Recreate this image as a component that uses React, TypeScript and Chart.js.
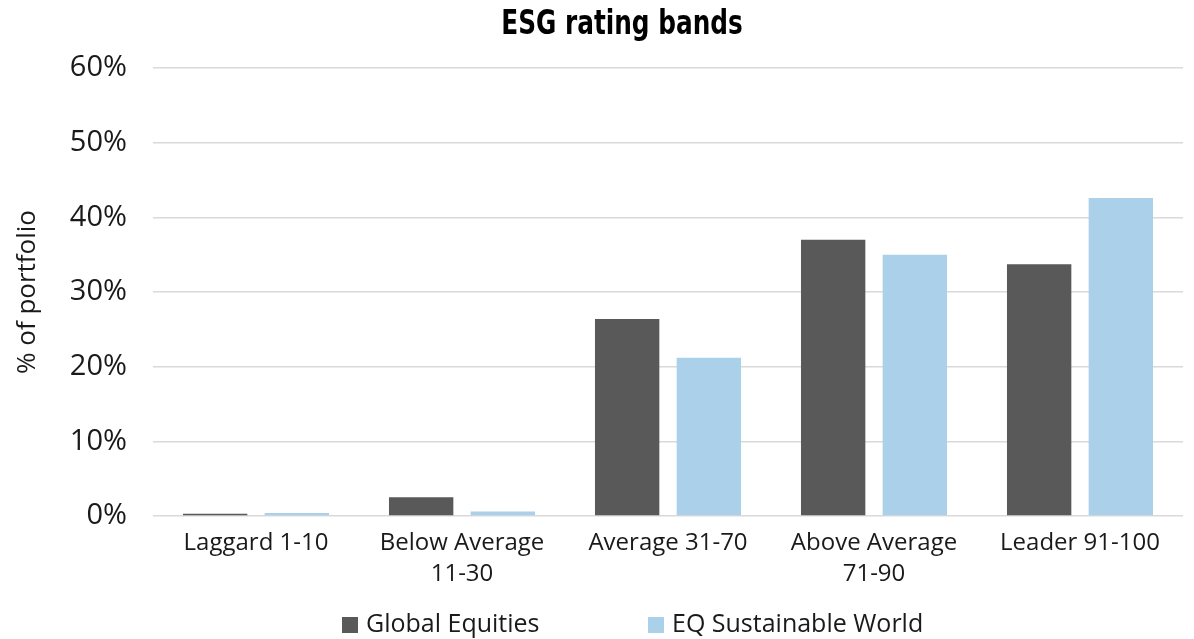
import React, { useEffect, useRef } from "react";
import { Chart, registerables } from "chart.js";

Chart.register(...registerables);

// Rating band categories (multi-line labels are arrays)
const categories: (string | string[])[] = [
  "Laggard 1-10",
  ["Below Average", "11-30"],
  "Average 31-70",
  ["Above Average", "71-90"],
  "Leader 91-100",
];

// Share of portfolio in each band, in percent
const globalEquities: number[] = [0.3, 2.5, 26.4, 37.0, 33.7];
const eqSustainableWorld: number[] = [0.4, 0.6, 21.2, 35.0, 42.6];

const seriesNames: string[] = ["Global Equities", "EQ Sustainable World"];
const seriesColors: string[] = ["#595959", "#abd0ea"];

const chartTitle = "ESG rating bands";
const yAxisTitle = "% of portfolio";
const yMax = 60;
const yStep = 10;

const TEXT_FONT = "'Open Sans', 'Liberation Sans', sans-serif";
const TITLE_FONT = "'DejaVu Sans Condensed', 'DejaVu Sans', sans-serif";
const TEXT_COLOR = "#1a1a1a";

// Heading drawn above the plot, centred on the whole figure, horizontally condensed
const headingPlugin = {
  id: "heading",
  afterDraw(chart: any, _args: any, opts: any) {
    const { ctx } = chart;
    ctx.save();
    ctx.font = `bold ${opts.size}px ${TITLE_FONT}`;
    ctx.fillStyle = "#000";
    ctx.textAlign = "center";
    ctx.textBaseline = "alphabetic";
    ctx.translate(opts.x, opts.baseline);
    ctx.scale(opts.squeeze, 1);
    ctx.fillText(opts.text, 0, 0);
    ctx.restore();
  },
};

// Series key under the category axis
const keyPlugin = {
  id: "seriesKey",
  afterDraw(chart: any, _args: any, opts: any) {
    const { ctx } = chart;
    ctx.save();
    ctx.font = `${opts.size}px ${TEXT_FONT}`;
    ctx.textAlign = "left";
    ctx.textBaseline = "alphabetic";
    chart.data.datasets.forEach((ds: any, i: number) => {
      const x = opts.startX + i * opts.spacing;
      ctx.fillStyle = ds.backgroundColor;
      ctx.fillRect(x, opts.boxTop, opts.box, opts.box);
      ctx.fillStyle = TEXT_COLOR;
      ctx.fillText(ds.label, x + opts.box + opts.gap, opts.baseline);
    });
    ctx.restore();
  },
};

export default function App() {
  const canvasRef = useRef<HTMLCanvasElement | null>(null);

  useEffect(() => {
    const canvas = canvasRef.current;
    if (!canvas) return;
    const chart = new Chart(canvas, {
      type: "bar",
      data: {
        labels: categories,
        datasets: [
          {
            label: seriesNames[0],
            data: globalEquities,
            backgroundColor: seriesColors[0],
            categoryPercentage: 0.793,
            barPercentage: 0.788,
          },
          {
            label: seriesNames[1],
            data: eqSustainableWorld,
            backgroundColor: seriesColors[1],
            categoryPercentage: 0.793,
            barPercentage: 0.788,
          },
        ],
      },
      options: {
        responsive: false,
        animation: false,
        layout: { padding: { top: 68, right: 11, bottom: 0, left: 0 } },
        plugins: {
          legend: { display: false },
          title: { display: false },
          tooltip: { enabled: false },
          heading: { text: chartTitle, size: 34, x: 622, baseline: 34, squeeze: 0.81 },
          seriesKey: { startX: 342, spacing: 306, box: 16, gap: 8, boxTop: 617, baseline: 632, size: 25 },
        } as any,
        scales: {
          x: {
            grid: { display: false, drawTicks: false },
            border: { display: false },
            ticks: {
              color: TEXT_COLOR,
              font: { family: TEXT_FONT, size: 24, lineHeight: 1.28 },
              padding: 12,
              maxRotation: 0,
              autoSkip: false,
            },
            afterFit: (scale: any) => {
              scale.height = 123;
            },
          },
          y: {
            min: 0,
            max: yMax,
            grid: { color: "#d9d9d9", lineWidth: 1.5, drawTicks: false },
            border: { display: false },
            ticks: {
              stepSize: yStep,
              color: TEXT_COLOR,
              font: { family: TEXT_FONT, size: 29 },
              padding: 26,
              callback: (v: any) => `${v}%`,
            },
            title: {
              display: true,
              text: yAxisTitle,
              color: TEXT_COLOR,
              font: { family: TEXT_FONT, size: 26, lineHeight: 1.2 },
              padding: { top: 12, bottom: 0 },
            },
            afterFit: (scale: any) => {
              scale.width = 153;
            },
          },
        },
      },
      plugins: [headingPlugin, keyPlugin],
    });
    return () => chart.destroy();
  }, []);

  return (
    <div style={{ position: "fixed", left: 0, top: 0, width: 1194, height: 639, background: "#fff" }}>
      <canvas ref={canvasRef} width={1194} height={639} />
    </div>
  );
}
